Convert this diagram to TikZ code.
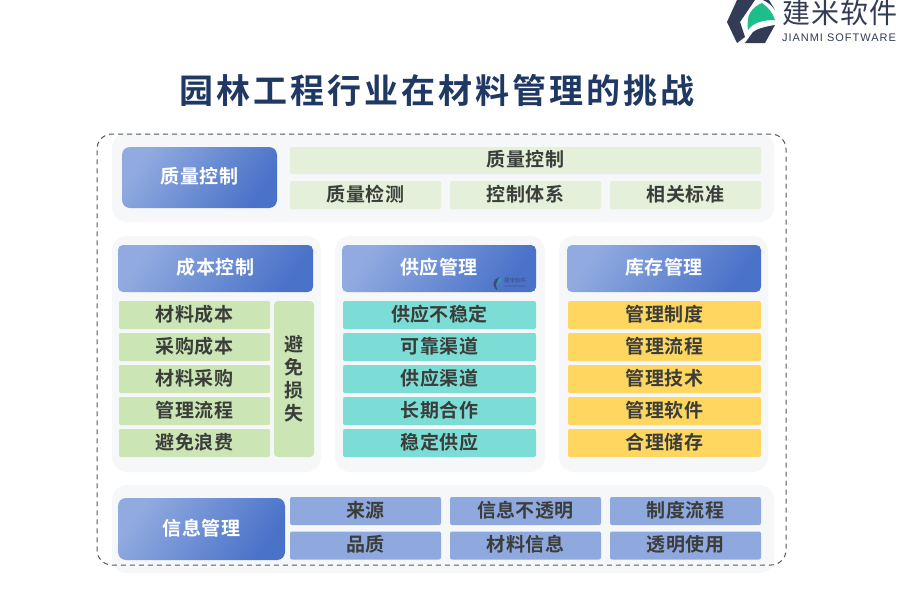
\documentclass[tikz,border=0pt]{standalone}
\usepackage{fontspec}
\setmainfont{Liberation Sans}
\newfontfamily\cjk{Noto Sans CJK SC}
\newfontfamily\cjktitle[LetterSpace=9]{Noto Sans CJK SC Bold}
\newfontfamily\cjkitem[LetterSpace=2]{Noto Sans CJK SC Bold}
\newfontfamily\cjklogo[LetterSpace=3]{Noto Sans CJK SC}
\definecolor{gradA}{HTML}{91ABE0}
\definecolor{gradB}{HTML}{4A72C8}
\definecolor{panelc}{HTML}{F6F7F8}
\definecolor{paleg}{HTML}{E4F0DA}
\definecolor{midg}{HTML}{CBE5B5}
\definecolor{teal2}{HTML}{7CDDD6}
\definecolor{yell}{HTML}{FFD65F}
\definecolor{bluei}{HTML}{8FA9DF}
\definecolor{txt}{HTML}{3A3D3A}
\definecolor{navy}{HTML}{1F3864}
\definecolor{slate}{HTML}{333C56}
\definecolor{logog}{HTML}{1DBE8A}
\tikzset{
  x=1pt,y=-1pt,
  every node/.style={inner sep=0pt,outer sep=0pt,anchor=center},
  panelbox/.style={fill=panelc,rounded corners=15pt},
  headbox/.style={rounded corners=8pt,left color=gradA,right color=gradB,shading angle=55,
     text=white,text height=16.4pt,text depth=3.6pt,font=\cjkitem\fontsize{19}{21}\selectfont},
  itembox/.style={rounded corners=2pt,text=txt,text height=16.4pt,text depth=3.6pt,font=\cjkitem\fontsize{19}{21}\selectfont},
}
\begin{document}
\begin{tikzpicture}
\useasboundingbox (0,0) rectangle (900,600);
\fill[white] (0,0) rectangle (900,600);
% panels
\node[panelbox,minimum width=662pt,minimum height=89pt] (pTop) at (443,177.5) {};
\node[panelbox,minimum width=209pt,minimum height=236pt] (pCost) at (216.5,354) {};
\node[panelbox,minimum width=210pt,minimum height=236pt] (pSup) at (440,354) {};
\node[panelbox,minimum width=209pt,minimum height=236pt] (pInv) at (663.5,354) {};
\node[panelbox,minimum width=662pt,minimum height=88pt] (pInfo) at (443,529) {};
\node[draw=black!65,line width=1pt,rounded corners=15pt,minimum width=689pt,minimum height=431pt,dash pattern=on 5pt off 4pt] (frame) at (441.5,349.5) {};
% title
\node[text=navy,font=\cjktitle\fontsize{34}{38}\selectfont] (title) at (437,90) {园林工程行业在材料管理的挑战};
% headers
\node[headbox,minimum width=155pt,minimum height=61pt] (hQual) at (199.5,177.5) {质量控制};
\node[headbox,rounded corners=5pt,minimum width=195pt,minimum height=47pt] (hCost) at (215.5,268.5) {成本控制};
\node[headbox,rounded corners=5pt,minimum width=194pt,minimum height=47pt] (hSup) at (439,268.5) {供应管理};
\node[headbox,rounded corners=5pt,minimum width=194pt,minimum height=47pt] (hInv) at (664,268.5) {库存管理};
\node[headbox,minimum width=167pt,minimum height=62pt] (hInfo) at (201.5,529) {信息管理};
% quality items
\node[itembox,fill=paleg,minimum width=471pt,minimum height=27pt] (q0) at (525.5,160.5) {质量控制};
\node[itembox,fill=paleg,minimum width=151pt,minimum height=28pt] (q1) at (365.5,195) {质量检测};
\node[itembox,fill=paleg,minimum width=151pt,minimum height=28pt] (q2) at (525.5,195) {控制体系};
\node[itembox,fill=paleg,minimum width=151pt,minimum height=28pt] (q3) at (685.5,195) {相关标准};
% cost items
\foreach \n/\y/\t in {c1/315/材料成本,c2/347/采购成本,c3/379/材料采购,c4/411/管理流程,c5/443/避免浪费}
  \node[itembox,fill=midg,minimum width=151pt,minimum height=28pt] (\n) at (194.5,\y) {\t};
\node[itembox,fill=midg,minimum width=40pt,minimum height=156pt,align=center,rounded corners=4pt,
  text height=,text depth=,font=\cjkitem\fontsize{19}{23}\selectfont] (cs) at (294,379) {避\\免\\损\\失};
% supply items
\foreach \n/\y/\t in {s1/315/供应不稳定,s2/347/可靠渠道,s3/379/供应渠道,s4/411/长期合作,s5/443/稳定供应}
  \node[itembox,fill=teal2,minimum width=193pt,minimum height=28pt] (\n) at (439.5,\y) {\t};
% inventory items
\foreach \n/\y/\t in {i1/315/管理制度,i2/347/管理流程,i3/379/管理技术,i4/411/管理软件,i5/443/合理储存}
  \node[itembox,fill=yell,minimum width=193pt,minimum height=28pt] (\n) at (664.5,\y) {\t};
% info items
\foreach \n/\x/\y/\t in {m1/365.5/511/来源,m2/525.5/511/信息不透明,m3/685.5/511/制度流程,m4/365.5/545.5/品质,m5/525.5/545.5/材料信息,m6/685.5/545.5/透明使用}
  \node[itembox,fill=bluei,minimum width=151pt,minimum height=28pt] (\n) at (\x,\y) {\t};
% logo
\fill[slate] (737,0) -- (755,0) -- (740,22) -- (745,37) -- (737,43) -- (727,22) -- cycle;
\fill[slate] (763,0) -- (769,0) -- (775,10) .. controls (772,6) and (768,2) .. (763,0) -- cycle;
\fill[slate] (775,25) -- (765,43) -- (745,43) -- (753,32) .. controls (757,29) and (763,27) .. (775,25) -- cycle;
\fill[logog] (748,30) .. controls (747,22) and (748,16) .. (750,13) .. controls (753,8) and (757,5) .. (762,3) .. controls (768,7) and (773,13) .. (775,20) .. controls (762,20) and (753,23) .. (748,30) -- cycle;
\node[text=slate,font=\cjklogo\fontsize{28}{30}\selectfont] (logoT) at (840,13) {建米软件};
\node[text=slate,font=\fontsize{11}{12}\selectfont\addfontfeature{LetterSpace=9}] (logoS) at (839,38) {JIANMI SOFTWARE};
% watermark
\fill[slate!70!gradB] (497,290) .. controls (491,285) and (493,280) .. (499,277) -- (496,284) -- cycle;
\fill[logog!50!gradB] (497,285) .. controls (497,281) and (499,278) .. (502,278) -- (501,282) -- cycle;
\node[text=slate!70!gradB,font=\cjk\fontsize{5.5}{6}\selectfont] (wmT) at (515,280) {建米软件};
\node[text=slate!60!gradB,font=\fontsize{2.4}{3}\selectfont] (wmS) at (515,286.5) {JIANMI SOFTWARE};
\end{tikzpicture}
\end{document}
